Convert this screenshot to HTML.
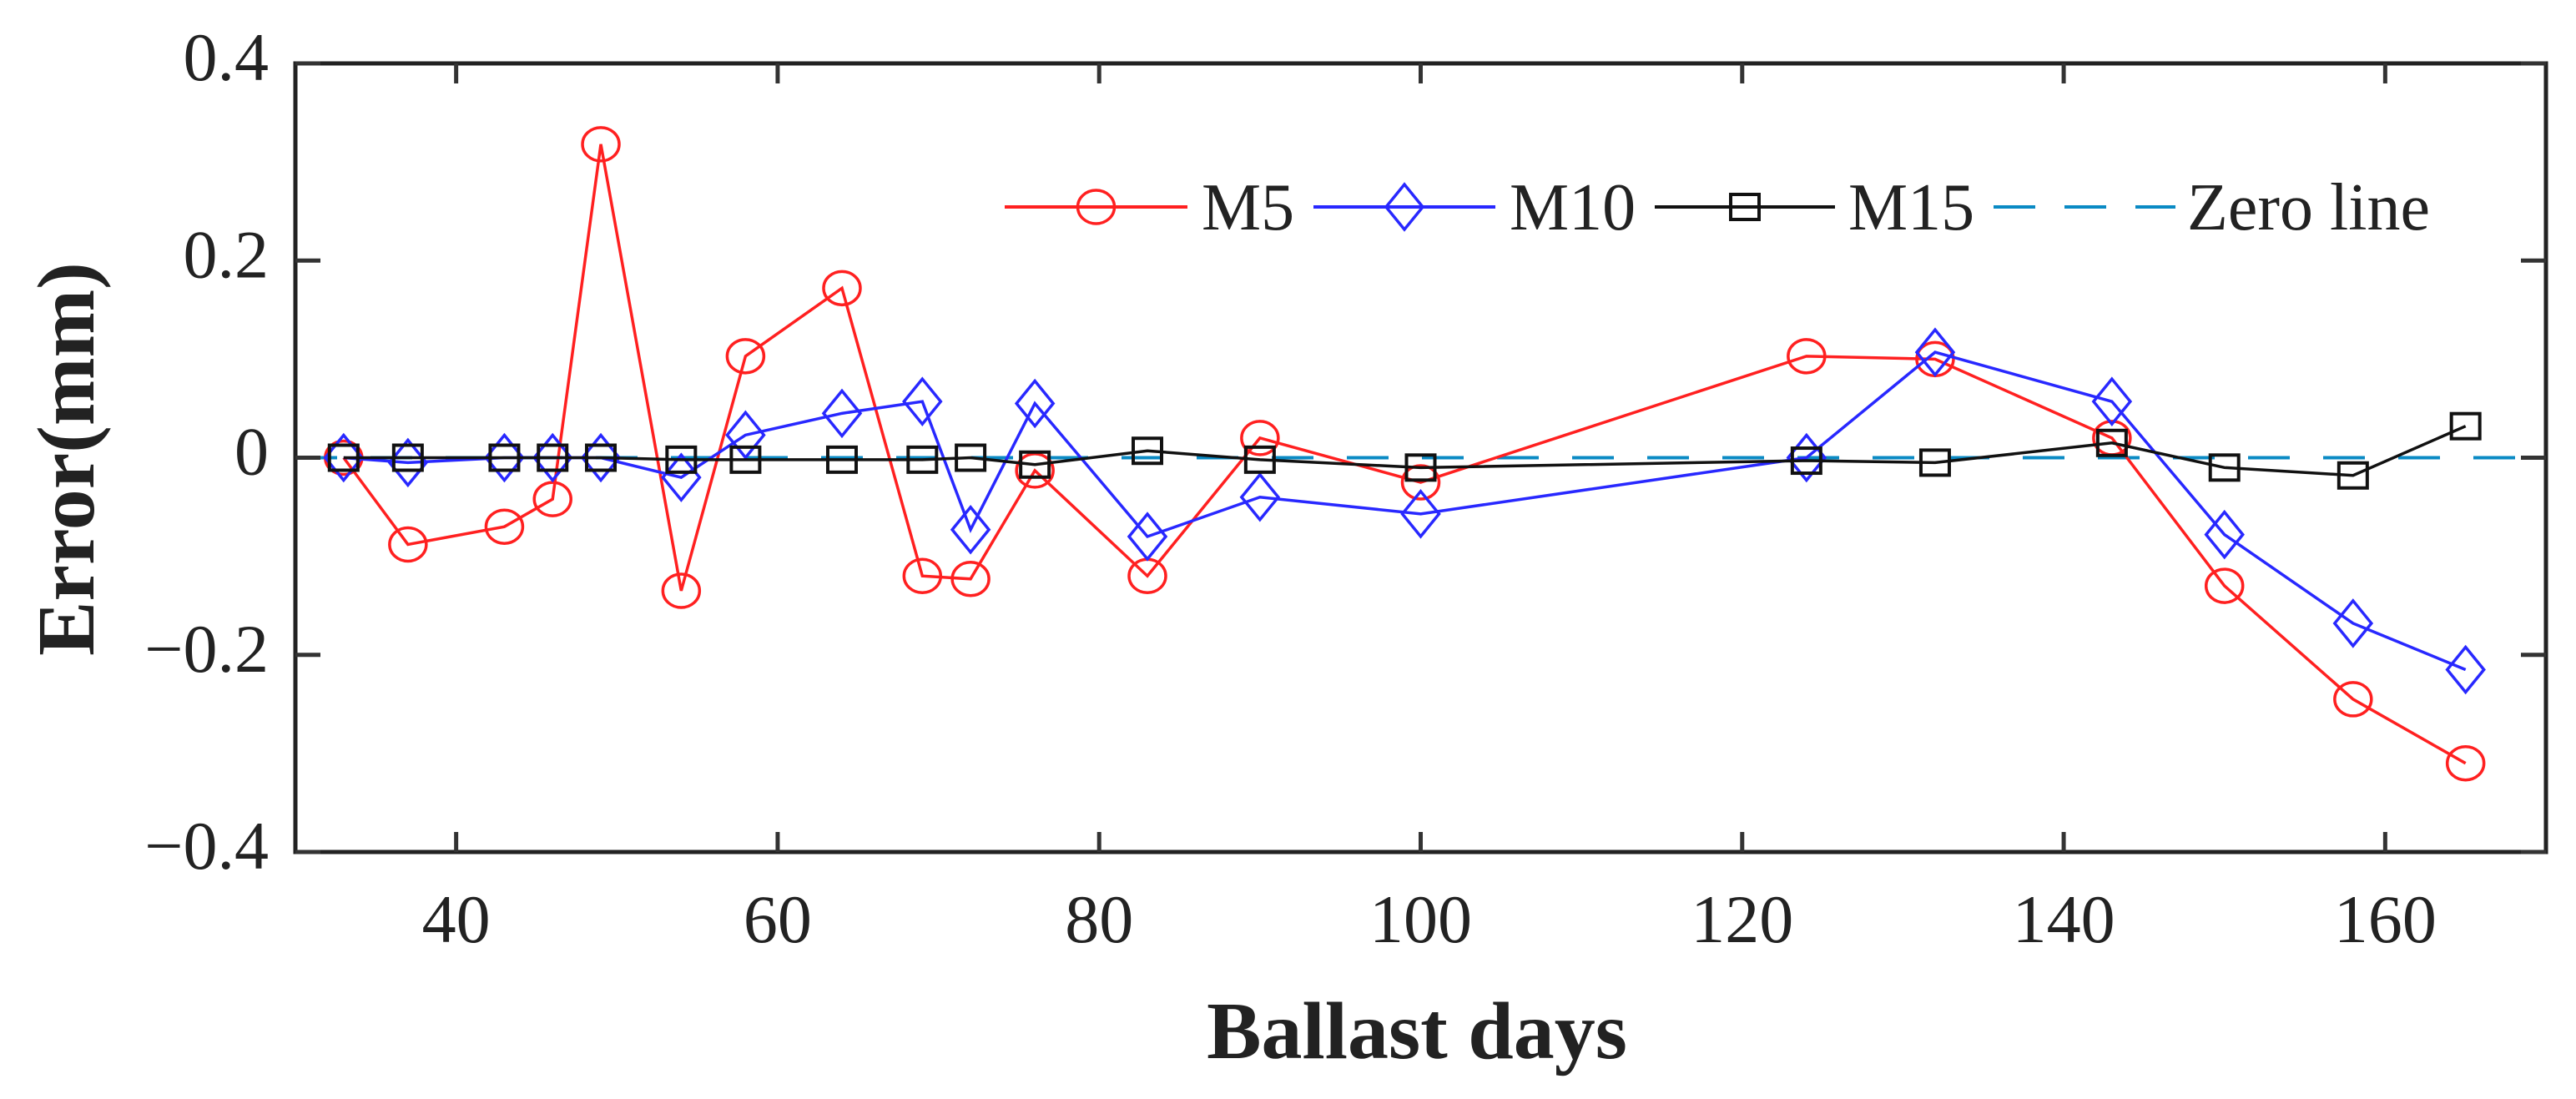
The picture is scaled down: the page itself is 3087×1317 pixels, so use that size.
<!DOCTYPE html>
<html><head><meta charset="utf-8"><style>
html,body{margin:0;padding:0;background:#fff}
svg{display:block}
text{font-family:"Liberation Serif",serif;fill:#222}
</style></head><body>
<svg id="chart" width="3087" height="1317" viewBox="0 0 3087 1317" xmlns="http://www.w3.org/2000/svg">
<g id="plot"></g>
</svg>
<script>
const days = [33,37,43,46,49,54,58,64,69,72,76,83,90,100,124,132,143,150,158,165];
const m5Values = [0,-0.088,-0.07,-0.042,0.318,-0.135,0.103,0.172,-0.12,-0.123,-0.013,-0.12,0.02,-0.025,0.103,0.1,0.02,-0.13,-0.245,-0.31];
const m10Values = [0,-0.005,0,0,0,-0.02,0.023,0.045,0.057,-0.073,0.055,-0.08,-0.04,-0.057,0,0.107,0.057,-0.078,-0.168,-0.215];
const m15Values = [0,0,0,0,0,-0.002,-0.002,-0.002,-0.002,0,-0.007,0.007,-0.002,-0.01,-0.003,-0.005,0.015,-0.01,-0.018,0.032];
const xTicks = [40,60,80,100,120,140,160];
const yTicks = [0.4,0.2,0,-0.2,-0.4];
const yTickLabels = ["0.4","0.2","0","\u22120.2","\u22120.4"];

const L=354,R=3051,T=76,B=1021;
const xMin=30,xMax=170,yMin=-0.4,yMax=0.4;
const xs=d=>L+(d-xMin)/(xMax-xMin)*(R-L);
const ys=v=>B-(v-yMin)/(yMax-yMin)*(B-T);
const NS="http://www.w3.org/2000/svg";
const g=document.getElementById('plot');
function mk(tag,attrs,parent){const e=document.createElementNS(NS,tag);for(const k in attrs)e.setAttribute(k,attrs[k]);(parent||g).appendChild(e);return e;}

// zero line
const z=mk('line',{x1:L,x2:R,y1:ys(0),y2:ys(0),stroke:'#0a8ac4','stroke-width':4,'stroke-dasharray':'50,40'});



function marker(type,cx,cy,color,parent){
  let e;
  if(type==='circle') e=mk('ellipse',{cx:cx,cy:cy,rx:22,ry:20,fill:'none',stroke:color,'stroke-width':3.5},parent);
  else if(type==='diamond') e=mk('polygon',{points:`${cx},${cy-27} ${cx+22},${cy} ${cx},${cy+27} ${cx-22},${cy}`,fill:'none',stroke:color,'stroke-width':3.5},parent);
  else e=mk('rect',{x:cx-17,y:cy-15,width:34,height:30,fill:'none',stroke:color,'stroke-width':4},parent);
  return e;
}
function series(vals,color,type,name){
  const sg=mk('g',{});
  
  
  const pts=days.map((d,i)=>xs(d)+','+ys(vals[i])).join(' ');
  const pl=mk('polyline',{points:pts,fill:'none',stroke:color,'stroke-width':3.5},sg);
  
  
  days.forEach((d,i)=>{
    const m=marker(type,xs(d),ys(vals[i]),color,sg);
    
    
  });
}
series(m5Values,'#ff2020','circle','m5-series');
series(m10Values,'#2828ff','diamond','m10-series');
series(m15Values,'#111','square','m15-series');

// axes frame
const fr=mk('rect',{x:L,y:T,width:R-L,height:B-T,fill:'none',stroke:'#222','stroke-width':5});


xTicks.forEach(t=>{
  const x=xs(t);
  mk('line',{x1:x,x2:x,y1:B,y2:B-24,stroke:'#333','stroke-width':5});
  mk('line',{x1:x,x2:x,y1:T,y2:T+24,stroke:'#333','stroke-width':5});
  const tx=mk('text',{x:x,y:1129,'text-anchor':'middle','font-size':82});
  tx.textContent=t;
  
  
});
yTicks.forEach((t,i)=>{
  const y=ys(t);
  mk('line',{x1:L,x2:L+30,y1:y,y2:y,stroke:'#333','stroke-width':5});
  mk('line',{x1:R,x2:R-30,y1:y,y2:y,stroke:'#333','stroke-width':5});
  const tx=mk('text',{x:322,y:y+20,'text-anchor':'end','font-size':82});
  tx.textContent=yTickLabels[i];
  
  
});

// axis titles
const xt=mk('text',{x:1698,y:1268,'text-anchor':'middle','font-size':98,'font-weight':'bold'});
xt.textContent='Ballast days';


const yt=mk('text',{x:0,y:0,'text-anchor':'middle','font-size':98,'font-weight':'bold',transform:'translate(112,550) rotate(-90)'});
yt.textContent='Error(mm)';



// legend
const lg=mk('g',{});


const ly=248;
const legendItems=[
  {x1:1204,x2:1423,tx:1440,label:'M5',color:'#ff2020',type:'circle'},
  {x1:1574,x2:1792,tx:1809,label:'M10',color:'#2828ff',type:'diamond'},
  {x1:1983,x2:2199,tx:2215,label:'M15',color:'#111',type:'square'},
  {x1:2389,x2:2607,tx:2621,label:'Zero line',color:'#0a8ac4',type:'dash'}
];
legendItems.forEach(it=>{
  const eg=mk('g',{},lg);
  
  
  if(it.type==='dash') mk('line',{x1:it.x1,x2:it.x2,y1:ly,y2:ly,stroke:it.color,'stroke-width':4,'stroke-dasharray':'50,35'},eg);
  else { mk('line',{x1:it.x1,x2:it.x2,y1:ly,y2:ly,stroke:it.color,'stroke-width':4},eg); marker(it.type,(it.x1+it.x2)/2,ly,it.color,eg); }
  const t=mk('text',{x:it.tx,y:ly+27,'font-size':80},eg);
  t.textContent=it.label;
});
</script>
</body></html>
